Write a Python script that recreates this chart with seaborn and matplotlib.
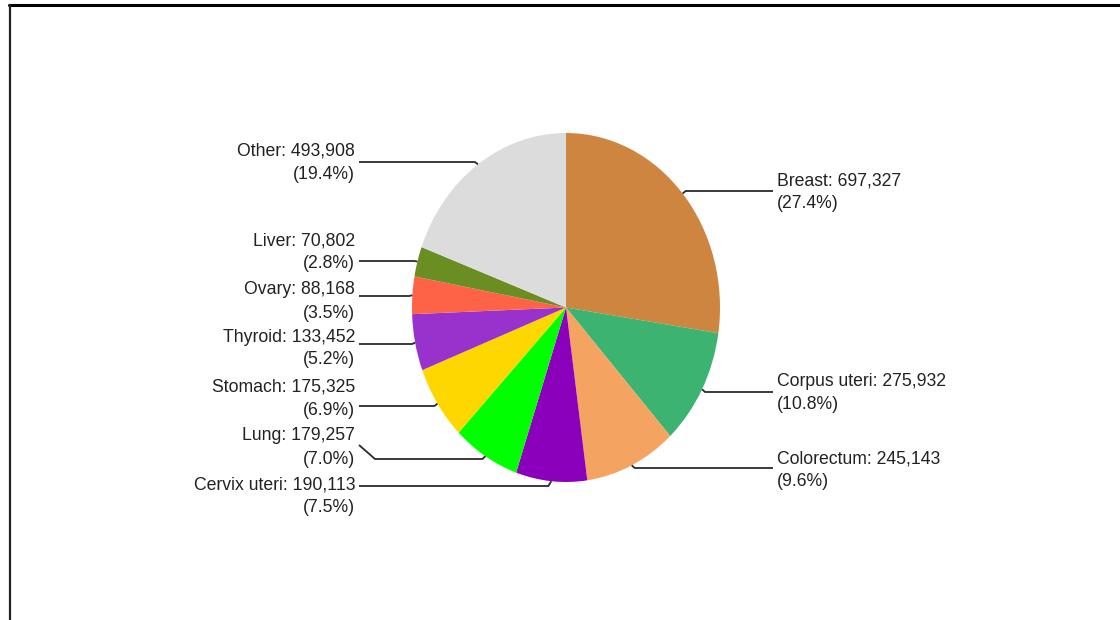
import numpy as np
import matplotlib
matplotlib.use("Agg")
import matplotlib.pyplot as plt
from matplotlib.lines import Line2D
import seaborn as sns

# ---------------- data ----------------
categories = ["Breast", "Corpus uteri", "Colorectum", "Cervix uteri", "Lung",
              "Stomach", "Thyroid", "Ovary", "Liver", "Other"]
values = [697327, 275932, 245143, 190113, 179257, 175325, 133452, 88168, 70802, 493908]
colors = ["#CD853F", "#3CB371", "#F4A460", "#8B00BB", "#00FF00",
          "#FFD700", "#9932CC", "#FF6347", "#6B8E23", "#DCDCDC"]

# ---------------- layout (pixels from top-left) ----------------
W, H = 1120, 620
CX, CY = 566, 307.5        # pie centre
RX, RY = 154, 174.5        # pie radii (elliptical)
label_side = [1, 1, 1, -1, -1, -1, -1, -1, -1, -1]
label_block_y = [192.5, 393, 470, 496.5, 447.5, 399, 348.5, 301.5, 252.5, 163]
leader_y = [191, 392, 468, 486, 459, 406, 344, 296, 261, 162]
leader_text_y = [191, 392, 468, 486, 445, 406, 344, 296, 261, 162]
TEXT_X_RIGHT, TEXT_X_LEFT = 777, 355
LINE_X_RIGHT, LINE_X_LEFT = 773, 359

sns.set_theme(style="white")
plt.rcParams["font.family"] = ["Liberation Sans", "DejaVu Sans"]

fig = plt.figure(figsize=(W / 100, H / 100), dpi=100)
fig.patch.set_facecolor("white")
ax = fig.add_axes([0, 0, 1, 1])
ax.set_facecolor("white")

ax.pie(values, colors=colors, startangle=90, counterclock=False, radius=1,
       wedgeprops=dict(linewidth=0, antialiased=True))
ax.set_aspect("auto")
ax.set_xlim(-CX / RX, (W - CX) / RX)
ax.set_ylim(-(H - CY) / RY, CY / RY)
ax.axis("off")


def P(px, py):
    """pixel (from top-left) -> data coords"""
    return (px - CX) / RX, (CY - py) / RY


total = float(sum(values))
cum = np.cumsum([0] + values[:-1])
text_kw = dict(fontsize=12.7, color="#222222")
for i, (name, v) in enumerate(zip(categories, values)):
    theta = 2 * np.pi * (cum[i] + v / 2.0) / total
    ex, ey = np.sin(theta), np.cos(theta)           # data coords on the pie edge
    epx, epy = CX + ex * RX, CY - ey * RY            # pixel equivalent
    side = label_side[i]
    ly = leader_y[i]
    pts_px = [(epx, epy), (epx + side * 3, ly)]
    if side > 0:
        pts_px += [(LINE_X_RIGHT, ly), (LINE_X_RIGHT, leader_text_y[i])]
    else:
        if leader_text_y[i] != ly:
            pts_px += [(LINE_X_LEFT + 16, ly), (LINE_X_LEFT, leader_text_y[i])]
        else:
            pts_px += [(LINE_X_LEFT, ly)]
    xs, ys = zip(*[P(a, b) for a, b in pts_px])
    ax.plot(xs, ys, color="#2a2a2a", lw=1.3, solid_capstyle="butt", clip_on=False)

    pct = 100.0 * v / total
    line1 = f"{name}: {v:,}"
    line2 = f"({pct:.1f}%)"
    by = label_block_y[i]
    tx = TEXT_X_RIGHT if side > 0 else TEXT_X_LEFT
    ha = "left" if side > 0 else "right"
    ax.text(*P(tx, by - 11.5), line1, ha=ha, va="center", **text_kw)
    ax.text(*P(tx, by + 11.5), line2, ha=ha, va="center", **text_kw)

# frame lines (top and left)
fig.add_artist(Line2D([9 / W, 1], [1 - 5 / H, 1 - 5 / H], transform=fig.transFigure,
                      color="black", lw=2.2))
fig.add_artist(Line2D([10 / W, 10 / W], [0, 1 - 5 / H], transform=fig.transFigure,
                      color="#222222", lw=1.6))

fig.savefig("out.png", dpi=100, facecolor="white")
